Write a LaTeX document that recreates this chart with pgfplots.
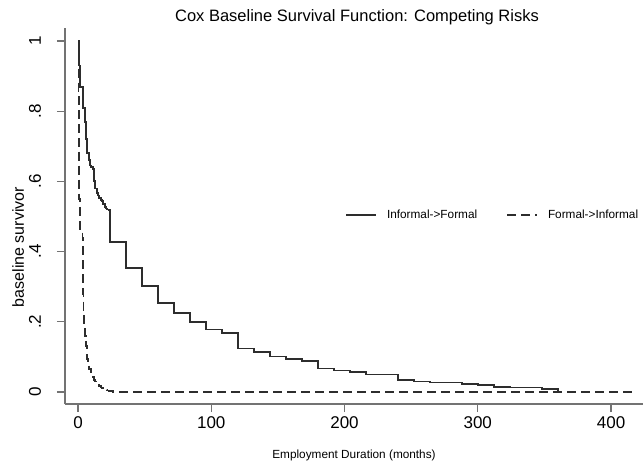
\documentclass[border=0pt]{standalone}
\usepackage{pgfplots}
\pgfplotsset{compat=1.18}
\usepackage{fontspec}
\setmainfont{Liberation Sans}
\definecolor{curvecol}{RGB}{45,45,45}
\definecolor{axiscol}{RGB}{115,115,115}

\begin{document}
\begin{tikzpicture}
\useasboundingbox (0pt,0pt) rectangle (644pt,463pt);
\begin{axis}[
    at={(65pt,59pt)}, anchor=south west,
    scale only axis, width=578pt, height=376pt,
    xmin=-9.76, xmax=424, ymin=-0.0342, ymax=1.037,
    axis x line*=bottom, axis y line*=left,
    axis line style={axiscol, line width=1.5pt, -},
    xtick={0,100,200,300,400},
    ytick={0,0.2,0.4,0.6,0.8,1},
    yticklabels={0,.2,.4,.6,.8,1},
    tick align=outside, major tick length=8pt,
    tick style={axiscol, line width=1.2pt},
    ticklabel style={font=\fontsize{17}{17}\selectfont},
    /pgf/number format/assume math mode=true,
    yticklabel style={rotate=90, anchor=base, yshift=16pt},
    xticklabel style={yshift=-1pt},
    legend columns=2,
    legend image code/.code={\draw[#1] (0pt,0pt) -- (30pt,0pt);},
    legend style={draw=none, fill=none, inner sep=0pt,
        at={(axis cs:200.4,0.504)}, anchor=west,
        font=\fontsize{11.8}{14}\selectfont,
        nodes={inner sep=0pt},
        /tikz/every odd column/.append style={column sep=10pt},
        /tikz/every even column/.append style={column sep=29pt}},
]
% Informal->Formal
\addplot[const plot, curvecol, line width=1.8pt] coordinates {
    (0,1.0) (0.5,0.97) (1,0.93) (1.5,0.87) (3.5,0.866) (4,0.81) (5,0.77)
    (6,0.72) (7,0.68) (8,0.66) (9,0.645) (10,0.64) (11,0.635) (12,0.60)
    (13,0.58) (14,0.567) (15,0.56) (16,0.553) (17,0.548) (18,0.543)
    (19,0.535) (20,0.528) (21,0.523) (22,0.52) (23,0.518)
    (24,0.427) (36,0.354) (48,0.303) (60,0.253) (72,0.224) (84,0.200)
    (96,0.178) (108,0.169) (120,0.124) (132,0.115) (144,0.101) (156,0.094)
    (168,0.088) (180,0.067) (192,0.061) (204,0.056) (216,0.050)
    (240,0.034) (252,0.030) (264,0.027) (288,0.023) (300,0.020)
    (312,0.015) (324,0.013) (348,0.0085) (360,0.0)
};
\addlegendentry{Informal->Formal}
% Formal->Informal
\addplot[const plot, curvecol, line width=1.8pt, dash pattern=on 9pt off 5pt] coordinates {
    (0,1.0) (0.3,0.85) (0.6,0.7) (1,0.55) (1.5,0.456) (3.3,0.44) (3.5,0.36)
    (3.7,0.28) (4.1,0.22) (4.6,0.18) (5.3,0.16) (6,0.13) (6.5,0.095)
    (7.5,0.08) (8.5,0.065) (10,0.052) (11,0.042) (12,0.035) (13,0.03)
    (14,0.025) (15,0.02) (16,0.016) (17,0.013) (18,0.011) (19,0.009)
    (20,0.007) (21,0.005) (22,0.004) (23,0.003) (24,0.002) (26,0.001)
    (419,0.001)
};
\addlegendentry{Formal->Informal}
\end{axis}
\node[anchor=base, font=\fontsize{16.5}{18}\selectfont] at (357pt,441.3pt)
    {Cox Baseline Survival Function: Competing Risks};
\node[anchor=base, font=\fontsize{11.8}{14}\selectfont] at (354pt,4.5pt)
    {Employment Duration (months)};
\node[anchor=base, rotate=90, font=\fontsize{16}{18}\selectfont] at (24pt,216pt)
    {baseline survivor};
\end{tikzpicture}
\end{document}
